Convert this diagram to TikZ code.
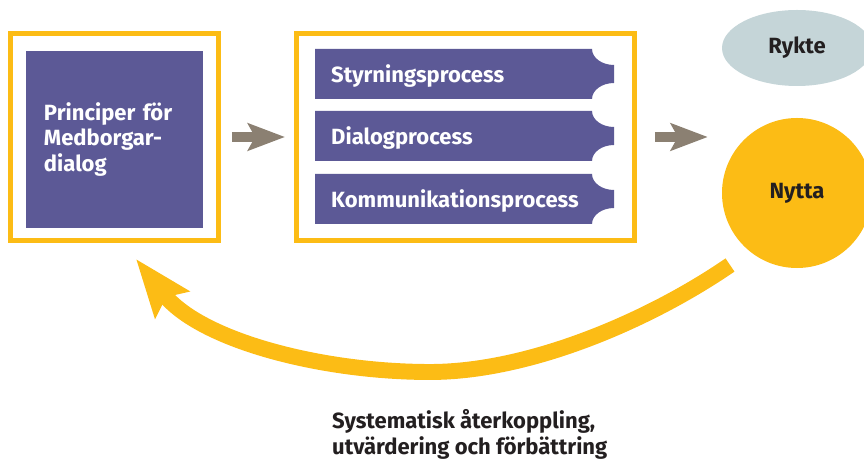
\documentclass[tikz,border=0pt]{standalone}
\usepackage{fontspec}
\setmainfont{Fira Sans}
\usetikzlibrary{arrows.meta,shapes.geometric}

\definecolor{framegold}{RGB}{252,188,21}
\definecolor{lilac}{RGB}{92,89,150}
\definecolor{arrowtaupe}{RGB}{139,128,114}
\definecolor{rykteblue}{RGB}{197,213,216}
\definecolor{inkdark}{RGB}{35,31,32}

\tikzset{
	goldframe/.style={draw=framegold, line width=4.25pt, fill=white},
	lilacbox/.style={fill=lilac, text=white, font=\fontsize{18.8}{22}\selectfont\bfseries},
	bartext/.style={text=white, inner sep=0pt, anchor=base west, font=\fontsize{18.8}{22}\selectfont\bfseries},
	bubbletext/.style={text=inkdark, font=\fontsize{18.8}{22}\selectfont\bfseries},
	captext/.style={text=inkdark, inner sep=0pt, font=\fontsize{18.8}{23}\selectfont\bfseries},
	fwdarrow/.style={draw=arrowtaupe, line width=8.5pt, -{Stealth[length=31.5pt, width=23pt, inset=6pt]}},
	fbarrow/.style={draw=framegold, line width=13.6pt, -{Stealth[length=49pt, width=36pt, inset=7.7pt]}}
}

\begin{document}
\begin{tikzpicture}[x=0.03cm, y=-0.03cm]
			\useasboundingbox (0,0) rectangle (864,461);
			\clip (0,0) rectangle (864,461);

			\node[goldframe, minimum width=6.24cm, minimum height=6.21cm] (princFrame) at (114.5,137) {};
			\node[lilacbox, minimum size=5.31cm, text width=4.23cm, align=left] (princ) at (114.5,139.5) {Principer för\\Medborgar-\\dialog};

			\node[goldframe, minimum width=10.14cm, minimum height=6.21cm] (procFrame) at (465.5,137) {};
			\foreach \name/\ytop/\label in {styr/49/Styrningsprocess, dial/111/Dialogprocess, komm/174/Kommunikationsprocess} {
				\fill[lilac] (315,\ytop) -- ++(277,0) .. controls +(0,8.8) and +(-12.1,0) .. ++(22,16) -- ++(0,18) .. controls +(-12.1,0) and +(0,-8.8) .. ++(-22,16) -- ++(-277,0) -- cycle;
				\node[bartext] (\name) at (331,\ytop+33.5) {\label};
			}

			\node[ellipse, fill=rykteblue, minimum width=4.5cm, minimum height=2.28cm, bubbletext] (rykte) at (797,48) {Rykte};
			\node[circle, fill=framegold, minimum size=4.5cm, bubbletext] (nytta) at (797,193) {Nytta};

			\draw[fwdarrow, shorten <=9.35pt, shorten >=7.65pt] (princFrame.east) -- (procFrame.west);
			\draw[fwdarrow, shorten <=15.3pt, shorten >=11.9pt] (procFrame.east) -- (procFrame.east -| nytta.west);

			\coordinate (fbStart) at (730,265);
			\coordinate (fbEnd) at (136,259);
			\draw[fbarrow] (fbStart) .. controls (650,320) and (530,372) .. (430,372) .. controls (320,372) and (200,340) .. (fbEnd);

			\node[captext, anchor=base west, align=left] (fbLabel) at (332,455) {Systematisk återkoppling,\\utvärdering och förbättring};
		\end{tikzpicture}
\end{document}
